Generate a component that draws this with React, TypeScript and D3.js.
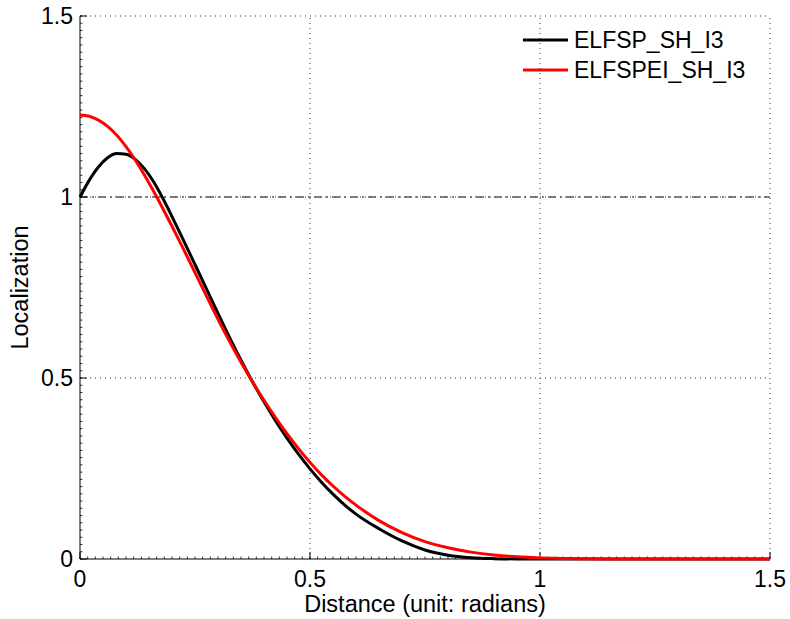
import React from "react";
import * as d3 from "d3";

const xValues = [0, 0.02, 0.04, 0.06, 0.08, 0.1, 0.12, 0.14, 0.16, 0.18, 0.2, 0.225, 0.25, 0.275, 0.3, 0.325, 0.35, 0.375, 0.4, 0.425, 0.45, 0.475, 0.5, 0.525, 0.55, 0.575, 0.6, 0.65, 0.7, 0.75, 0.8, 0.85, 0.9, 0.95, 1.0, 1.05, 1.1, 1.2, 1.3, 1.4, 1.5];
const elfsp = [1.0, 1.046, 1.083, 1.1085, 1.12, 1.118, 1.104, 1.0785, 1.042, 0.9965, 0.946, 0.8804, 0.8135, 0.746, 0.6785, 0.6122, 0.5491, 0.4897, 0.4341, 0.3822, 0.3341, 0.2897, 0.2491, 0.2122, 0.1791, 0.1497, 0.1241, 0.0837, 0.05, 0.025, 0.0105, 0.0035, 0.001, 0.0002, 0, 0, 0, 0, 0, 0, 0];
const elfspei = [1.2265, 1.223, 1.2125, 1.195, 1.1705, 1.1393, 1.1023, 1.0607, 1.0157, 0.9683, 0.9191, 0.8558, 0.7913, 0.7263, 0.6624, 0.6014, 0.5436, 0.4893, 0.4384, 0.3907, 0.3461, 0.3048, 0.2669, 0.2325, 0.2016, 0.1738, 0.1489, 0.106, 0.073, 0.048, 0.031, 0.019, 0.011, 0.006, 0.003, 0.0012, 0.0004, 0, 0, 0, 0];
const seriesNames = ["ELFSP_SH_I3", "ELFSPEI_SH_I3"];
const seriesColors = ["#000000", "#ff0000"];
const xTicks = [0, 0.5, 1, 1.5];
const yTicks = [0, 0.5, 1, 1.5];
const xTickLabels = ["0", "0.5", "1", "1.5"];
const yTickLabels = ["0", "0.5", "1", "1.5"];
const refLevel = 1;

const W = 790, H = 619;
const M = { left: 80, right: 770, top: 16, bottom: 559 };
const FONT = "'Liberation Sans', Arial, Helvetica, sans-serif";

export default function App() {
  const x = d3.scaleLinear().domain([0, 1.5]).range([M.left, M.right]);
  const y = d3.scaleLinear().domain([0, 1.5]).range([M.bottom, M.top]);
  const line = d3.line<number>()
    .x((_, i) => x(xValues[i]))
    .y((d) => y(d))
    .curve(d3.curveMonotoneX);
  const series = [elfsp, elfspei];

  const xMinor = d3.range(0, 1.5 + 1e-9, 0.5 / 30);
  const yMinor = d3.range(0, 1.5 + 1e-9, 0.02);

  return (
    <svg width={W} height={H} style={{ position: "absolute", left: 0, top: 0, background: "#fff" }} fontFamily={FONT}>
      <rect x={0} y={0} width={W} height={H} fill="#fff" />
      {/* grid */}
      {xTicks.filter((t) => t > 0).map((t) => (
        <line key={"gx" + t} x1={x(t)} x2={x(t)} y1={y(0)} y2={y(1.5)} stroke="#333" strokeWidth={1} strokeDasharray="1 4" />
      ))}
      {yTicks.filter((t) => t > 0).map((t) => (
        <line key={"gy" + t} x1={x(0)} x2={x(1.5)} y1={y(t)} y2={y(t)} stroke="#333" strokeWidth={1} strokeDasharray="1 4" />
      ))}
      {/* reference line */}
      <line x1={x(0)} x2={x(1.5)} y1={y(refLevel)} y2={y(refLevel)} stroke="#555" strokeWidth={1.5} strokeDasharray="8 4 2 4" />
      {/* axes */}
      <line x1={x(0)} x2={x(1.5)} y1={y(0)} y2={y(0)} stroke="#000" strokeWidth={1} />
      <line x1={x(0)} x2={x(0)} y1={y(0)} y2={y(1.5)} stroke="#000" strokeWidth={1} />
      {xMinor.map((t, i) => (
        <line key={"xm" + i} x1={x(t)} x2={x(t)} y1={y(0)} y2={y(0) - 2.5} stroke="#000" strokeWidth={0.8} />
      ))}
      {yMinor.map((t, i) => (
        <line key={"ym" + i} x1={x(0)} x2={x(0) + 2.5} y1={y(t)} y2={y(t)} stroke="#000" strokeWidth={0.8} />
      ))}
      {xTicks.map((t) => (
        <line key={"xt" + t} x1={x(t)} x2={x(t)} y1={y(0)} y2={y(0) - 7} stroke="#000" strokeWidth={1} />
      ))}
      {yTicks.map((t) => (
        <line key={"yt" + t} x1={x(0)} x2={x(0) + 7} y1={y(t)} y2={y(t)} stroke="#000" strokeWidth={1} />
      ))}
      {/* curves */}
      {series.map((s, i) => (
        <path key={"s" + i} d={line(s) || ""} fill="none" stroke={seriesColors[i]} strokeWidth={3} strokeLinejoin="round" />
      ))}
      {/* tick labels */}
      {xTicks.map((t, i) => (
        <text key={"xl" + t} x={x(t)} y={587} textAnchor="middle" fontSize={23}>{xTickLabels[i]}</text>
      ))}
      {yTicks.map((t, i) => (
        <text key={"yl" + t} x={73} y={y(t)} textAnchor="end" dominantBaseline="central" fontSize={23}>{yTickLabels[i]}</text>
      ))}
      {/* axis labels */}
      <text x={(M.left + M.right) / 2} y={612} textAnchor="middle" fontSize={23.5}>Distance (unit: radians)</text>
      <text transform={`translate(20,${(M.top + M.bottom) / 2}) rotate(-90)`} textAnchor="middle" dominantBaseline="central" fontSize={23.5}>Localization</text>
      {/* legend */}
      {seriesNames.map((n, i) => (
        <g key={"lg" + i}>
          <line x1={523} x2={568} y1={40 + i * 30} y2={40 + i * 30} stroke={seriesColors[i]} strokeWidth={3} />
          <text x={574} y={40 + i * 30} dominantBaseline="central" fontSize={23}>{n}</text>
        </g>
      ))}
    </svg>
  );
}
